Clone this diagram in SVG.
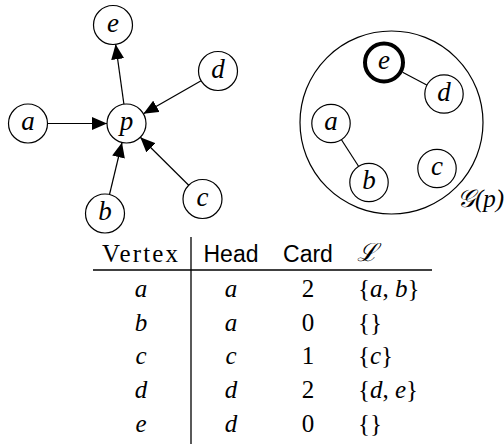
<svg xmlns="http://www.w3.org/2000/svg" width="504" height="444" viewBox="0 0 504 444">
  <style>
    .node { fill: #fff; stroke: #000; stroke-width: 1.2; }
    .bold { fill: #fff; stroke: #000; stroke-width: 4; }
    .lbl { font-family: "Liberation Serif", serif; font-style: italic; font-size: 27px; text-anchor: middle; dominant-baseline: central; }
    .edge { stroke: #000; stroke-width: 1.2; fill: none; }
    .math { font-family: "Liberation Serif", serif; font-style: italic; font-size: 25px; }
    .rm { font-family: "Liberation Serif", serif; font-size: 25px; }
    .sf { font-family: "Liberation Sans", sans-serif; font-size: 23px; }
    .c { text-anchor: middle; }
    .rule { stroke: #000; stroke-width: 1.3; }
  </style>
  <defs>
    <marker id="arrow" viewBox="0 0 15 13" refX="15" refY="6.5" markerWidth="15" markerHeight="13" markerUnits="userSpaceOnUse" orient="auto">
      <path d="M0,0 L15,6.5 L0,13 Z" fill="#000"/>
    </marker>
  </defs>

  <!-- directed star graph around p -->
  <g id="connectors">
    <line class="edge" x1="47.5" y1="123.5" x2="107" y2="123.5" marker-end="url(#arrow)"/>
    <line class="edge" x1="123.9" y1="104.2" x2="115.6" y2="44.3" marker-end="url(#arrow)"/>
    <line class="edge" x1="201.1" y1="80.7" x2="143.4" y2="113.8" marker-end="url(#arrow)"/>
    <line class="edge" x1="109.5" y1="194.5" x2="122" y2="142.5" marker-end="url(#arrow)"/>
    <line class="edge" x1="188.7" y1="185.3" x2="140.3" y2="137.2" marker-end="url(#arrow)"/>
  </g>
  <g id="node-p"><circle class="node" cx="126.5" cy="123.5" r="19.5"/><text class="lbl" x="126.5" y="121">p</text></g>
  <g id="node-a"><circle class="node" cx="28" cy="123.5" r="19.5"/><text class="lbl" x="28" y="121">a</text></g>
  <g id="node-e"><circle class="node" cx="113" cy="25" r="19.5"/><text class="lbl" x="113" y="22.5">e</text></g>
  <g id="node-d"><circle class="node" cx="218" cy="71" r="19.5"/><text class="lbl" x="218" y="68.5">d</text></g>
  <g id="node-b"><circle class="node" cx="105" cy="213.5" r="19.5"/><text class="lbl" x="105" y="211">b</text></g>
  <g id="node-c"><circle class="node" cx="202.5" cy="199" r="19.5"/><text class="lbl" x="202.5" y="196.5">c</text></g>

  <!-- grouping G(p) -->
  <g id="group-Gp">
    <circle class="node" cx="391.5" cy="122.5" r="91.5" fill="none"/>
    <text class="math" x="457" y="207" font-size="24">𝒢(p)</text>
  </g>
  <g id="group-connectors">
    <line class="edge" x1="402.6" y1="72.3" x2="427.2" y2="85.2"/>
    <line class="edge" x1="341.3" y1="139.5" x2="358.7" y2="166.5"/>
  </g>
  <g id="g-node-e"><circle class="bold" cx="384" cy="62.5" r="19"/><text class="lbl" x="384" y="60">e</text></g>
  <g id="g-node-d"><circle class="node" cx="444" cy="94" r="19.2"/><text class="lbl" x="444" y="91.5">d</text></g>
  <g id="g-node-a"><circle class="node" cx="331" cy="123.5" r="19.2"/><text class="lbl" x="331" y="121">a</text></g>
  <g id="g-node-b"><circle class="node" cx="369" cy="182.5" r="19.2"/><text class="lbl" x="369" y="180">b</text></g>
  <g id="g-node-c"><circle class="node" cx="437" cy="168.5" r="19.2"/><text class="lbl" x="437" y="166">c</text></g>

  <!-- table -->
  <g id="table">
    <line class="rule" x1="191" y1="237" x2="191" y2="444"/>
    <line class="rule" x1="93" y1="270" x2="432" y2="270"/>
    <text class="rm" x="102" y="262" textLength="76" lengthAdjust="spacing">Vertex</text>
    <text class="sf c" x="231" y="262">Head</text>
    <text class="sf c" x="308" y="262">Card</text>
    <text class="math" x="357" y="261" font-size="22" font-family="DejaVu Sans, sans-serif">ℒ</text>

    <text class="math c" x="141" y="297">a</text>
    <text class="math c" x="231" y="297">a</text>
    <text class="rm c" x="308" y="297">2</text>
    <text class="math" x="358" y="297"><tspan font-style="normal">{</tspan>a<tspan font-style="normal">, </tspan>b<tspan font-style="normal">}</tspan></text>

    <text class="math c" x="141" y="331">b</text>
    <text class="math c" x="231" y="331">a</text>
    <text class="rm c" x="308" y="331">0</text>
    <text class="rm" x="358" y="331">{}</text>

    <text class="math c" x="141" y="364">c</text>
    <text class="math c" x="231" y="364">c</text>
    <text class="rm c" x="308" y="364">1</text>
    <text class="math" x="358" y="364"><tspan font-style="normal">{</tspan>c<tspan font-style="normal">}</tspan></text>

    <text class="math c" x="141" y="398">d</text>
    <text class="math c" x="231" y="398">d</text>
    <text class="rm c" x="308" y="398">2</text>
    <text class="math" x="358" y="398"><tspan font-style="normal">{</tspan>d<tspan font-style="normal">, </tspan>e<tspan font-style="normal">}</tspan></text>

    <text class="math c" x="141" y="432">e</text>
    <text class="math c" x="231" y="432">d</text>
    <text class="rm c" x="308" y="432">0</text>
    <text class="rm" x="358" y="432">{}</text>
  </g>
</svg>
